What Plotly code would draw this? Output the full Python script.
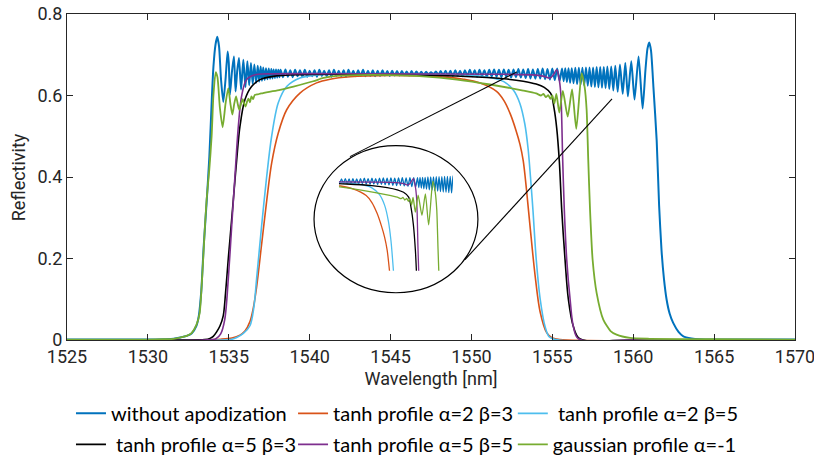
import plotly.graph_objects as go

# ---------------- data ----------------
x_ticks = [1525, 1530, 1535, 1540, 1545, 1550, 1555, 1560, 1565, 1570]
y_ticks = [0, 0.2, 0.4, 0.6, 0.8]

names = ["without apodization", "tanh profile α=2 β=3", " tanh profile α=2 β=5",
         " tanh profile α=5 β=3", "tanh profile α=5 β=5", "gaussian profile α=-1"]
colors = ["#0072BD", "#D95319", "#4DBEEE", "#000000", "#7E2F8E", "#77AC30"]

# without apodization: rising edge + decaying ripples
blue_rise_wl = [1525.0, 1528.0, 1530.0, 1531.0, 1531.6, 1532.0, 1532.4, 1532.7, 1533.0, 1533.15,
                1533.3, 1533.45, 1533.65, 1533.8, 1533.95, 1534.05, 1534.18, 1534.29, 1534.4, 1534.52,
                1534.66, 1534.8, 1534.93, 1535.0, 1535.07, 1535.2, 1535.32, 1535.42, 1535.52, 1535.63,
                1535.76, 1535.9, 1536.03, 1536.15, 1536.26, 1536.37, 1536.48, 1536.58, 1536.69, 1536.79,
                1536.88, 1536.97, 1537.05, 1537.13, 1537.22, 1537.3, 1537.39, 1537.47, 1537.55, 1537.63,
                1537.7, 1537.77, 1537.85, 1537.92, 1537.99, 1538.06, 1538.13]
blue_rise_r = [0.001, 0.001, 0.001, 0.002, 0.003, 0.006, 0.010, 0.016, 0.035, 0.06,
               0.12, 0.23, 0.35, 0.45, 0.59, 0.67, 0.725, 0.744, 0.72, 0.64,
               0.584, 0.64, 0.708, 0.68, 0.602, 0.66, 0.696, 0.610, 0.66, 0.692,
               0.615, 0.688, 0.620, 0.684, 0.625, 0.680, 0.628, 0.676, 0.631, 0.673,
               0.634, 0.671, 0.636, 0.669, 0.638, 0.667, 0.640, 0.666, 0.641, 0.665,
               0.642, 0.664, 0.643, 0.664, 0.644, 0.663, 0.645]
# without apodization: flat noisy band
blue_band_wl = [1538.20, 1538.35, 1538.50, 1538.65, 1538.80, 1538.95, 1539.10, 1539.25, 1539.40, 1539.55,
                1539.70, 1539.85, 1540.00, 1540.15, 1540.30, 1540.45, 1540.60, 1540.75, 1540.90, 1541.05,
                1541.20, 1541.35, 1541.50, 1541.65, 1541.80, 1541.95, 1542.10, 1542.25, 1542.40, 1542.55,
                1542.70, 1542.85, 1543.00, 1543.15, 1543.30, 1543.45, 1543.60, 1543.75, 1543.90, 1544.05,
                1544.20, 1544.35, 1544.50, 1544.65, 1544.80, 1544.95, 1545.10, 1545.25, 1545.40, 1545.55,
                1545.70, 1545.85, 1546.00, 1546.15, 1546.30, 1546.45, 1546.60, 1546.75, 1546.90, 1547.05,
                1547.20, 1547.35, 1547.50, 1547.65, 1547.80, 1547.95, 1548.10, 1548.25, 1548.40, 1548.55,
                1548.70, 1548.85, 1549.00, 1549.15, 1549.30, 1549.45, 1549.60, 1549.75, 1549.90, 1550.05,
                1550.20, 1550.35, 1550.50, 1550.65, 1550.80, 1550.95, 1551.10, 1551.25, 1551.40, 1551.55,
                1551.70, 1551.85, 1552.00, 1552.15, 1552.30, 1552.45, 1552.60, 1552.75, 1552.90, 1553.05,
                1553.20, 1553.35, 1553.50, 1553.65, 1553.80, 1553.95, 1554.10, 1554.25, 1554.40, 1554.55,
                1554.70, 1554.85, 1555.00, 1555.15, 1555.30, 1555.45]
blue_band_r = [0.663, 0.645, 0.664, 0.646, 0.662, 0.645, 0.663, 0.647, 0.662, 0.646,
               0.663, 0.646, 0.661, 0.647, 0.662, 0.646, 0.663, 0.648, 0.661, 0.647,
               0.662, 0.646, 0.663, 0.648, 0.661, 0.647, 0.662, 0.646, 0.663, 0.648,
               0.661, 0.647, 0.662, 0.648, 0.663, 0.647, 0.661, 0.648, 0.662, 0.647,
               0.661, 0.648, 0.662, 0.649, 0.660, 0.648, 0.661, 0.649, 0.660, 0.649,
               0.660, 0.650, 0.659, 0.649, 0.660, 0.650, 0.659, 0.651, 0.658, 0.651,
               0.658, 0.652, 0.657, 0.652, 0.659, 0.651, 0.660, 0.650, 0.661, 0.649,
               0.661, 0.648, 0.662, 0.649, 0.661, 0.647, 0.662, 0.648, 0.663, 0.647,
               0.662, 0.646, 0.663, 0.647, 0.662, 0.646, 0.663, 0.647, 0.664, 0.646,
               0.663, 0.645, 0.664, 0.646, 0.663, 0.644, 0.664, 0.645, 0.665, 0.644,
               0.664, 0.643, 0.665, 0.642, 0.664, 0.641, 0.665, 0.642, 0.666, 0.640,
               0.665, 0.639, 0.666, 0.638, 0.666, 0.636]
# without apodization: growing ripples + falling edge
blue_fall_wl = [1555.60, 1555.70, 1555.80, 1555.90, 1556.00, 1556.10, 1556.20, 1556.31, 1556.42, 1556.53,
                1556.64, 1556.75, 1556.86, 1556.97, 1557.08, 1557.19, 1557.30, 1557.41, 1557.52, 1557.63,
                1557.74, 1557.85, 1557.96, 1558.07, 1558.18, 1558.29, 1558.40, 1558.52, 1558.64, 1558.77,
                1558.89, 1559.04, 1559.18, 1559.35, 1559.51, 1559.67, 1559.88, 1560.08, 1560.33, 1560.58,
                1560.75, 1560.88, 1560.99, 1561.10, 1561.25, 1561.45, 1561.60, 1561.75, 1561.90, 1562.06,
                1562.25, 1562.47, 1562.80, 1563.10, 1563.60, 1564.10, 1566.0, 1570.0]
blue_fall_r = [0.666, 0.635, 0.667, 0.633, 0.667, 0.631, 0.667, 0.630, 0.668, 0.628,
               0.668, 0.627, 0.668, 0.625, 0.669, 0.624, 0.669, 0.622, 0.669, 0.621,
               0.670, 0.620, 0.670, 0.619, 0.670, 0.618, 0.671, 0.616, 0.671, 0.612,
               0.673, 0.609, 0.676, 0.604, 0.680, 0.598, 0.684, 0.590, 0.696, 0.568,
               0.660, 0.715, 0.730, 0.710, 0.620, 0.490, 0.330, 0.220, 0.150, 0.100,
               0.065, 0.042, 0.020, 0.009, 0.004, 0.002, 0.001, 0.001]

orange_wl = [1525.0, 1533.0, 1534.5, 1535.2, 1535.69, 1536.0, 1536.31, 1536.5, 1536.72, 1537.03,
             1537.34, 1537.65, 1538.06, 1538.58, 1539.4, 1540.43, 1541.26, 1542.5, 1545.0, 1547.0,
             1548.5, 1549.5, 1550.5, 1551.55, 1552.0, 1552.4, 1552.75, 1553.0, 1553.2, 1553.4,
             1553.62, 1553.93, 1554.24, 1554.65, 1555.0, 1555.47, 1570.0]
orange_r = [0.0, 0.0, 0.002, 0.005, 0.012, 0.022, 0.045, 0.075, 0.13, 0.235,
            0.34, 0.434, 0.508, 0.565, 0.606, 0.631, 0.640, 0.646, 0.649, 0.648,
            0.645, 0.640, 0.631, 0.610, 0.588, 0.555, 0.515, 0.480, 0.440, 0.370,
            0.280, 0.160, 0.070, 0.018, 0.005, 0.001, 0.0]

lblue_wl = [1525.0, 1534.5, 1535.2, 1535.49, 1535.9, 1536.31, 1536.55, 1536.72, 1537.03, 1537.34,
            1537.65, 1538.06, 1538.58, 1539.4, 1540.64, 1542.0, 1546.0, 1549.0, 1550.5, 1551.5,
            1552.0, 1552.6, 1553.0, 1553.3, 1553.5, 1553.65, 1553.8, 1554.0, 1554.25, 1554.55,
            1554.8, 1555.2, 1570.0]
lblue_r = [0.0, 0.0, 0.002, 0.006, 0.016, 0.035, 0.08, 0.15, 0.28, 0.40,
           0.50, 0.582, 0.622, 0.643, 0.651, 0.653, 0.652, 0.651, 0.648, 0.641,
           0.634, 0.613, 0.580, 0.530, 0.470, 0.400, 0.320, 0.200, 0.100, 0.033,
           0.008, 0.001, 0.0]

black_wl = [1525.0, 1532.0, 1533.5, 1533.84, 1534.04, 1534.25, 1534.46, 1534.66, 1534.8, 1534.97,
            1535.08, 1535.28, 1535.49, 1535.69, 1536.0, 1536.41, 1536.93, 1537.75, 1539.4, 1542.0,
            1545.0, 1548.0, 1550.0, 1552.0, 1553.2, 1554.0, 1554.5, 1554.9, 1555.1, 1555.27,
            1555.43, 1555.58, 1555.78, 1555.99, 1556.3, 1556.7, 1560.0, 1570.0]
black_r = [0.0, 0.0, 0.001, 0.004, 0.009, 0.02, 0.035, 0.06, 0.115, 0.20,
           0.25, 0.344, 0.442, 0.524, 0.590, 0.622, 0.639, 0.647, 0.651, 0.652,
           0.651, 0.649, 0.646, 0.641, 0.635, 0.628, 0.620, 0.605, 0.570, 0.520,
           0.440, 0.320, 0.200, 0.100, 0.033, 0.003, 0.0, 0.0]

purple_wl = [1525.0, 1533.5, 1534.2, 1534.5, 1534.75, 1534.97, 1535.18, 1535.38, 1535.59, 1535.79,
             1536.1, 1536.62, 1537.34, 1545.0, 1552.0, 1554.0, 1554.5, 1554.85, 1555.05, 1555.27,
             1555.4, 1555.52, 1555.64, 1555.74, 1555.89, 1556.1, 1556.3, 1556.61, 1560.0, 1570.0]
purple_r = [0.0, 0.0, 0.003, 0.015, 0.05, 0.15, 0.279, 0.401, 0.524, 0.598,
            0.639, 0.651, 0.653, 0.653, 0.652, 0.650, 0.647, 0.643, 0.650, 0.663,
            0.645, 0.606, 0.442, 0.320, 0.197, 0.099, 0.033, 0.003, 0.0, 0.0]

green_wl = [1525.0, 1530.0, 1531.0, 1531.6, 1532.0, 1532.4, 1532.7, 1533.0, 1533.2, 1533.35,
            1533.5, 1533.63, 1533.8, 1533.94, 1534.05, 1534.19, 1534.3, 1534.45, 1534.62, 1534.8,
            1534.97, 1535.1, 1535.22, 1535.34, 1535.45, 1535.55, 1535.65, 1535.76, 1535.86, 1535.95,
            1536.04, 1536.13, 1536.22, 1536.31, 1536.4, 1536.5, 1536.6, 1536.8, 1537.0, 1537.5,
            1538.17, 1539.0, 1540.22, 1540.85, 1541.4, 1542.9, 1545.0, 1547.0, 1549.1, 1551.15,
            1553.2, 1554.0, 1554.3, 1554.45, 1554.6, 1554.75, 1554.88, 1555.0, 1555.12, 1555.25,
            1555.43, 1555.65, 1555.95, 1556.22, 1556.48, 1556.81, 1557.0, 1557.12, 1557.22, 1557.33,
            1557.49, 1557.74, 1558.15, 1558.6, 1558.97, 1559.8, 1561.0, 1565.0, 1570.0]
green_r = [0.001, 0.001, 0.002, 0.003, 0.006, 0.010, 0.017, 0.037, 0.066, 0.15,
           0.26, 0.344, 0.42, 0.50, 0.60, 0.657, 0.645, 0.57, 0.522, 0.58,
           0.618, 0.58, 0.553, 0.58, 0.598, 0.58, 0.565, 0.58, 0.591, 0.58,
           0.573, 0.585, 0.592, 0.583, 0.598, 0.591, 0.601, 0.603, 0.605, 0.609,
           0.614, 0.622, 0.635, 0.643, 0.647, 0.650, 0.650, 0.647, 0.639, 0.627,
           0.612, 0.605, 0.600, 0.604, 0.596, 0.601, 0.592, 0.600, 0.580, 0.604,
           0.558, 0.611, 0.548, 0.615, 0.518, 0.655, 0.620, 0.565, 0.442, 0.320,
           0.197, 0.115, 0.050, 0.022, 0.013, 0.005, 0.003, 0.002, 0.001]

blue_wl = blue_rise_wl + blue_band_wl + blue_fall_wl
blue_r = blue_rise_r + blue_band_r + blue_fall_r

series = [(blue_wl, blue_r), (orange_wl, orange_r), (lblue_wl, lblue_r),
          (black_wl, black_r), (purple_wl, purple_r), (green_wl, green_r)]

# zoomed window shown in the circular inset
inset_x_range = [1549.4, 1558.4]
inset_y_range = [0.375, 0.675]

# ---------------- figure ----------------
fig = go.Figure()
widths = [2.0, 1.6, 1.6, 1.6, 1.6, 1.8]
smooth = [0.6, 0.9, 0.9, 0.9, 0.9, 0.6]
legend_of = ["legend", "legend2", "legend3", "legend", "legend2", "legend3"]
for i, ((xs, ys), nm, c) in enumerate(zip(series, names, colors)):
    fig.add_trace(go.Scatter(x=xs, y=ys, mode="lines", name=nm, legendgroup=f"g{i}",
                             line=dict(color=c, width=widths[i], shape="spline", smoothing=smooth[i]),
                             legend=legend_of[i]))
for i, ((xs, ys), c) in enumerate(zip(series, colors)):
    fig.add_trace(go.Scatter(x=xs, y=ys, mode="lines", showlegend=False, hoverinfo="skip",
                             line=dict(color=c, width=1.3, shape="spline", smoothing=smooth[i]),
                             xaxis="x2", yaxis="y2"))

axis_font = dict(family="Roboto, Liberation Sans, sans-serif", size=18, color="#262626")
leg_font = dict(family="Lato, Carlito, Calibri, sans-serif", size=20, color="#000000")

# circle + callout lines (main-axis data coordinates)
fig.add_shape(type="circle", xref="x", yref="y", x0=1540.27, x1=1550.40, y0=0.116, y1=0.477,
              line=dict(color="#000000", width=1.2), layer="below")
fig.add_shape(type="line", xref="x", yref="y", x0=1542.49, y0=0.450, x1=1552.82, y1=0.658,
              line=dict(color="#000000", width=1.1))
fig.add_shape(type="line", xref="x", yref="y", x0=1549.6, y0=0.197, x1=1558.69, y1=0.592,
              line=dict(color="#000000", width=1.1))

# y-axis title as a rotated annotation
fig.add_annotation(text="Reflectivity", xref="paper", yref="paper", x=-0.067, y=0.5,
                   textangle=-90, showarrow=False, font=axis_font, xanchor="center",
                   yanchor="middle")

leg_common = dict(orientation="v", xref="container", yref="container", xanchor="left",
                  y=0.162, yanchor="top", font=leg_font, itemwidth=30,
                  bgcolor="rgba(0,0,0,0)", tracegroupgap=2)

fig.update_layout(
    width=814, height=470,
    margin=dict(l=67, r=19, t=14, b=130, autoexpand=False),
    paper_bgcolor="white", plot_bgcolor="rgba(0,0,0,0)",
    xaxis=dict(range=[1525, 1570], tickvals=x_ticks, ticks="inside", ticklen=6,
               tickcolor="#262626", showline=True, linecolor="#262626", linewidth=1,
               mirror="ticks", showgrid=False, zeroline=False, tickfont=axis_font,
               ticklabeloverflow="allow",
               title=dict(text="Wavelength [nm]", font=axis_font, standoff=6)),
    yaxis=dict(range=[0, 0.8], tickvals=y_ticks, ticktext=["0", "0.2", "0.4", "0.6", "0.8"],
               ticks="inside", ticklen=6, tickcolor="#262626", showline=True,
               linecolor="#262626", linewidth=1, mirror="ticks", showgrid=False,
               zeroline=False, tickfont=axis_font),
    xaxis2=dict(domain=[0.3736, 0.5302], range=inset_x_range, visible=False, anchor="y2"),
    yaxis2=dict(domain=[0.2126, 0.507], range=inset_y_range, visible=False, anchor="x2"),
    legend=dict(leg_common, x=0.0872),
    legend2=dict(leg_common, x=0.360),
    legend3=dict(leg_common, x=0.630),
    showlegend=True,
)

fig.write_html("out.html")
